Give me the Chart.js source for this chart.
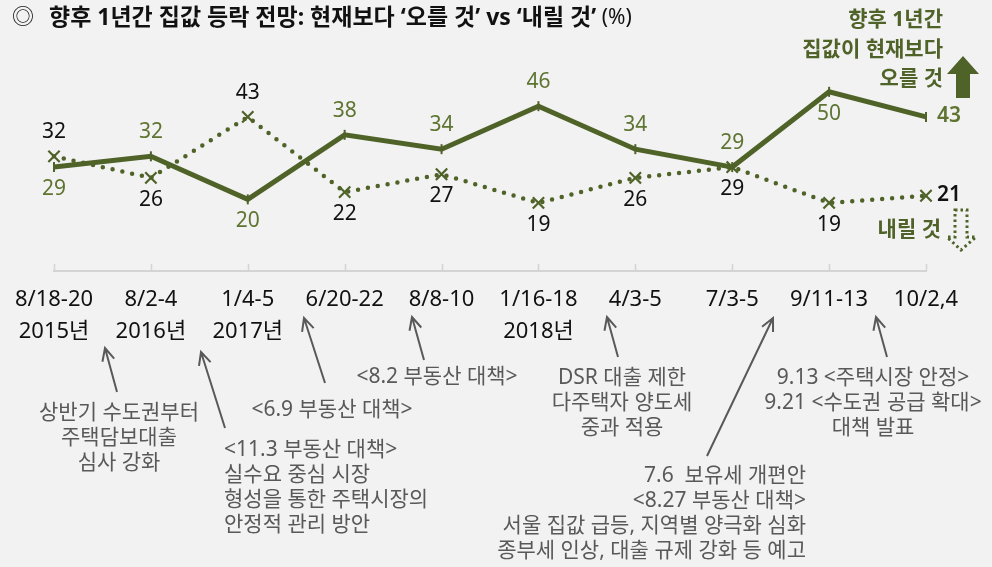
<!DOCTYPE html>
<html>
<head>
<meta charset="utf-8">
<script src="https://cdn.jsdelivr.net/npm/chart.js@4/dist/chart.umd.min.js"></script>
<style>
    html, body { margin: 0; padding: 0; background: #f2f2f2; }
    #wrap { width: 992px; height: 567px; position: relative; }
</style>
</head>
<body>
<div id="wrap"><canvas id="chart"></canvas></div>
<script>
// survey dates (x axis)
const categories = [
    ['8/18-20', '2015년'], ['8/2-4', '2016년'], ['1/4-5', '2017년'], ['6/20-22'], ['8/8-10'],
    ['1/16-18', '2018년'], ['4/3-5'], ['7/3-5'], ['9/11-13'], ['10/2,4']
];
// % answering prices will go up / down
const riseValues = [29, 32, 20, 38, 34, 46, 34, 29, 50, 43];
const fallValues = [32, 26, 43, 22, 27, 19, 26, 29, 19, 21];
// where each value label sits relative to its point
const riseLabelPos = ['below', 'above', 'below', 'above', 'above', 'above', 'above', 'above', 'below', 'right'];
const fallLabelPos = ['above', 'below', 'above', 'below', 'below', 'below', 'below', 'below', 'below', 'right'];

const FONT = '"Noto Sans", "Noto Sans CJK KR", sans-serif';
const GREEN = '#4f6228';
const LABEL_GREEN = '#5e7431';
const GREY = '#595959';

// policy notes: text lines, anchor, alignment and arrow (from -> to)
const notes = [
    {lines: ['상반기 수도권부터', '주택담보대출', '심사 강화'], x: 119, y: 413, align: 'center', arrow: [117, 392, 105, 348]},
    {lines: ['<11.3 부동산 대책>', '실수요 중심 시장', '형성을 통한 주택시장의', '안정적 관리 방안'], x: 224, y: 450, align: 'left', arrow: [225, 428, 201, 352]},
    {lines: ['<6.9 부동산 대책>'], x: 332, y: 410, align: 'center', arrow: [325, 383, 304, 318]},
    {lines: ['<8.2 부동산 대책>'], x: 437, y: 377, align: 'center', arrow: [424, 360, 412, 317]},
    {lines: ['DSR 대출 제한', '다주택자 양도세', '중과 적용'], x: 622, y: 378, align: 'center', arrow: [618, 357, 607, 317]},
    {lines: ['7.6  보유세 개편안', '<8.27 부동산 대책>', '서울 집값 급등, 지역별 양극화 심화', '종부세 인상, 대출 규제 강화 등 예고'], x: 806, y: 476, align: 'right', arrow: [707, 456, 773, 318]},
    {lines: ['9.13 <주택시장 안정>', '9.21 <수도권 공급 확대>', '대책 발표'], x: 873, y: 378, align: 'center', arrow: [887, 357, 876, 317]}
];

function drawArrow(ctx, x1, y1, x2, y2) {
    ctx.beginPath();
    ctx.moveTo(x1, y1);
    ctx.lineTo(x2, y2);
    const a = Math.atan2(y2 - y1, x2 - x1);
    const len = 14;
    ctx.moveTo(x2 - len * Math.cos(a - 0.45), y2 - len * Math.sin(a - 0.45));
    ctx.lineTo(x2, y2);
    ctx.lineTo(x2 - len * Math.cos(a + 0.45), y2 - len * Math.sin(a + 0.45));
    ctx.stroke();
}

const decorPlugin = {
    id: 'decor',
    beforeDraw(chart) {
        const ctx = chart.ctx;
        ctx.save();
        ctx.fillStyle = '#f2f2f2';
        ctx.fillRect(0, 0, chart.width, chart.height);
        ctx.restore();
    },
    afterDatasetsDraw(chart) {
        const ctx = chart.ctx;
        const x = chart.scales.x;
        const area = chart.chartArea;
        ctx.save();
        // upward tick marks on the axis
        ctx.strokeStyle = '#d4d4d4';
        ctx.lineWidth = 1.5;
        ctx.beginPath();
        x.ticks.forEach((t, i) => {
            const px = Math.round(x.getPixelForTick(i)) + 0.5;
            ctx.moveTo(px, area.bottom);
            ctx.lineTo(px, area.bottom - 7);
        });
        ctx.stroke();

        // value labels
        const sets = [
            {meta: chart.getDatasetMeta(0), vals: riseValues, pos: riseLabelPos, color: LABEL_GREEN},
            {meta: chart.getDatasetMeta(1), vals: fallValues, pos: fallLabelPos, color: '#111'}
        ];
        ctx.textBaseline = 'middle';
        sets.forEach(s => {
            s.meta.data.forEach((pt, i) => {
                ctx.fillStyle = s.color;
                ctx.font = '21px ' + FONT;
                let lx = pt.x, ly = pt.y;
                ctx.textAlign = 'center';
                if (s.pos[i] === 'above') ly -= 24;
                else if (s.pos[i] === 'below') ly += 22;
                else { ctx.textAlign = 'left'; lx += 11; ly -= 1; ctx.font = '600 21px ' + FONT; }
                ctx.fillText(String(s.vals[i]), lx, ly);
            });
        });

        // title
        ctx.fillStyle = '#111';
        ctx.textAlign = 'left';
        ctx.font = '22px ' + FONT;
        ctx.fillText('◎', 12, 18);
        ctx.font = 'bold 23px ' + FONT;
        const title = '향후 1년간 집값 등락 전망: 현재보다 ‘오를 것’ vs ‘내릴 것’';
        ctx.fillText(title, 49, 18);
        const tw = ctx.measureText(title).width;
        ctx.font = '21px ' + FONT;
        ctx.fillText(' (%)', 49 + tw, 18);

        // legend notes, top right
        ctx.fillStyle = GREEN;
        ctx.textAlign = 'right';
        ctx.font = 'bold 21px ' + FONT;
        ctx.fillText('향후 1년간', 943, 20);
        ctx.fillText('집값이 현재보다', 943, 50);
        ctx.fillText('오를 것', 943, 79);
        ctx.fillText('내릴 것', 941, 230);

        // solid up arrow
        ctx.beginPath();
        ctx.moveTo(963, 56);
        ctx.lineTo(979, 74);
        ctx.lineTo(970, 74);
        ctx.lineTo(970, 98);
        ctx.lineTo(956, 98);
        ctx.lineTo(956, 74);
        ctx.lineTo(947, 74);
        ctx.closePath();
        ctx.fill();

        // dotted down arrow
        ctx.strokeStyle = GREEN;
        ctx.lineWidth = 3;
        ctx.setLineDash([2.5, 3]);
        ctx.beginPath();
        ctx.moveTo(955, 210);
        ctx.lineTo(967, 210);
        ctx.lineTo(967, 237);
        ctx.lineTo(976, 237);
        ctx.lineTo(961, 250);
        ctx.lineTo(947, 237);
        ctx.lineTo(955, 237);
        ctx.closePath();
        ctx.stroke();
        ctx.setLineDash([]);

        // policy notes
        ctx.font = '21px ' + FONT;
        ctx.fillStyle = GREY;
        ctx.strokeStyle = GREY;
        ctx.lineWidth = 2;
        notes.forEach(n => {
            ctx.textAlign = n.align;
            n.lines.forEach((ln, i) => ctx.fillText(ln, n.x, n.y + i * 25));
            drawArrow(ctx, ...n.arrow);
        });
        ctx.restore();
    }
};

new Chart(document.getElementById('chart'), {
    type: 'line',
    data: {
        labels: categories,
        datasets: [
            {
                label: '오를 것',
                data: riseValues,
                borderColor: GREEN,
                backgroundColor: GREEN,
                borderWidth: 5,
                pointStyle: 'line',
                rotation: 90,
                pointRadius: 5,
                pointBorderWidth: 2,
                tension: 0
            },
            {
                label: '내릴 것',
                data: fallValues,
                borderColor: GREEN,
                backgroundColor: GREEN,
                borderWidth: 4.5,
                borderDash: [0, 10],
                borderCapStyle: 'round',
                pointStyle: 'crossRot',
                pointRadius: 8,
                pointBorderWidth: 2.2,
                tension: 0
            }
        ]
    },
    options: {
        responsive: true,
        maintainAspectRatio: false,
        animation: false,
        layout: {padding: {top: 56, left: 54, right: 66, bottom: 0}},
        plugins: {legend: {display: false}, tooltip: {enabled: false}},
        scales: {
            x: {
                offset: false,
                border: {display: true, color: '#d4d4d4', width: 2},
                grid: {display: false, drawTicks: false},
                ticks: {
                    color: '#111',
                    font: {family: FONT, size: 22, lineHeight: 1.45},
                    padding: 13,
                    maxRotation: 0,
                    autoSkip: false
                },
                afterFit(scale) { scale.height = 296; }
            },
            y: {
                display: false,
                min: 0,
                max: 60
            }
        }
    },
    plugins: [decorPlugin]
});
</script>
</body>
</html>
